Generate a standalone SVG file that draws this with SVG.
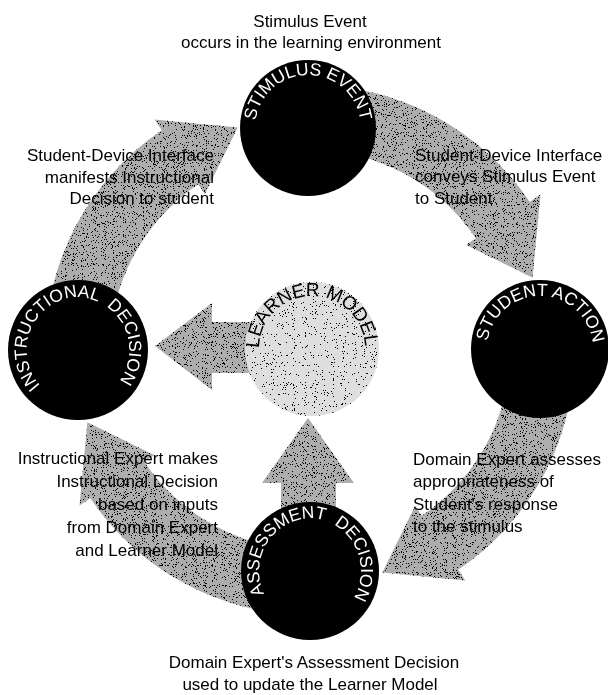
<svg xmlns="http://www.w3.org/2000/svg" width="608" height="695" viewBox="0 0 608 695">
<style>
.ann{font-family:"Liberation Sans",Arial,Helvetica,sans-serif;font-size:17px;fill:#000}
.mid{text-anchor:middle}
.end{text-anchor:end}
.ct{font-family:"Liberation Sans",Arial,Helvetica,sans-serif;font-size:17.5px;fill:#fff;text-anchor:middle}
.wide{word-spacing:5px}
.lmt{font-family:"Liberation Sans",Arial,Helvetica,sans-serif;font-size:19px;fill:#000;text-anchor:middle}
.node{fill:#000}
.arrow{fill:#adadad}
.lmc{fill:#dedede}
</style>
<defs>
<filter id="stip" x="-5%" y="-5%" width="110%" height="110%" color-interpolation-filters="sRGB">
<feTurbulence type="fractalNoise" baseFrequency="0.9" numOctaves="2" seed="7" result="n"/>
<feColorMatrix in="n" type="matrix" values="0 0 0 0 0 0 0 0 0 0 0 0 0 0 0 1 0 0 0 0" result="na"/>
<feComponentTransfer in="na" result="th"><feFuncA type="discrete" tableValues="0 0 0 0 0 0 0 0 0 0 0 0 0 1 1 1 1 1 1 1"/></feComponentTransfer>
<feComposite in="th" in2="SourceAlpha" operator="in" result="dots"/>
<feMerge><feMergeNode in="SourceGraphic"/><feMergeNode in="dots"/></feMerge>
</filter>
<filter id="stipL" x="-5%" y="-5%" width="110%" height="110%" color-interpolation-filters="sRGB">
<feTurbulence type="fractalNoise" baseFrequency="0.9" numOctaves="2" seed="3" result="n"/>
<feColorMatrix in="n" type="matrix" values="0 0 0 0 0 0 0 0 0 0 0 0 0 0 0 1 0 0 0 0" result="na"/>
<feComponentTransfer in="na" result="th"><feFuncA type="discrete" tableValues="0 0 0 0 0 0 0 0 0 0 0 0 0 0 1 1 1 1 1 1"/></feComponentTransfer>
<feComposite in="th" in2="SourceAlpha" operator="in" result="dots"/>
<feMerge><feMergeNode in="SourceGraphic"/><feMergeNode in="dots"/></feMerge>
</filter>
<path id="pStim" d="M308,181 A53,53 0 0 1 308,75 A53,53 0 0 1 308,181"/>
<path id="pSA" d="M539.1,402 A53,53 0 0 1 540.9,296 A53,53 0 0 1 539.1,402"/>
<path id="pInst" d="M80.8,402.9 A53,53 0 0 1 75.2,297.1 A53,53 0 0 1 80.8,402.9"/>
<path id="pAss" d="M307.5,623.9 A53,53 0 0 1 312.5,518.1 A53,53 0 0 1 307.5,623.9"/>
<path id="pLM" d="M312.9,402 A53,53 0 0 1 311.1,296 A53,53 0 0 1 312.9,402"/>
</defs>
<rect width="608" height="695" fill="#fff"/>
<g id="connectors" filter="url(#stip)">
<path id="a-inst-stim" class="arrow" d="M45,350 A265,265 0 0 1 161.8,130.3 L154.5,119.5 L237.7,127.4 L204.9,194.1 L198.2,184.2 A200,200 0 0 0 110,350 Z"/>
<path id="a-stim-sa" class="arrow" transform="rotate(90 310 350)" d="M45,350 A265,265 0 0 1 161.8,130.3 L154.5,119.5 L237.7,127.4 L204.9,194.1 L198.2,184.2 A200,200 0 0 0 110,350 Z"/>
<path id="a-sa-ass" class="arrow" transform="rotate(180 310 350)" d="M45,350 A265,265 0 0 1 161.8,130.3 L154.5,119.5 L237.7,127.4 L204.9,194.1 L198.2,184.2 A200,200 0 0 0 110,350 Z"/>
<path id="a-ass-inst" class="arrow" transform="rotate(270 310 350)" d="M45,350 A265,265 0 0 1 161.8,130.3 L154.5,119.5 L237.7,127.4 L204.9,194.1 L198.2,184.2 A200,200 0 0 0 110,350 Z"/>
<path id="a-lm-inst" class="arrow" d="M270,322 L212,322 L212,303 L155,346 L212,390 L212,373 L270,373 Z"/>
<path id="a-ass-lm" class="arrow" d="M281,515 L281,483 L262,483 L308,418 L354,483 L336,483 L336,515 Z"/>
</g>
<g id="learner-model">
<circle class="lmc" cx="312" cy="349" r="67" filter="url(#stipL)"/>
<text class="lmt"><textPath href="#pLM" startOffset="50%">LEARNER MODEL</textPath></text>
</g>
<g id="stimulus-event">
<circle class="node" cx="308" cy="128" r="68"/>
<text class="ct"><textPath href="#pStim" startOffset="50%">STIMULUS EVENT</textPath></text>
</g>
<g id="student-action">
<circle class="node" cx="540" cy="349" r="69"/>
<text class="ct"><textPath href="#pSA" startOffset="50%">STUDENT ACTION</textPath></text>
</g>
<g id="instructional-decision">
<circle class="node" cx="78" cy="350" r="70"/>
<text class="ct wide"><textPath href="#pInst" startOffset="50%">INSTRUCTIONAL DECISION</textPath></text>
</g>
<g id="assessment-decision">
<circle class="node" cx="310" cy="571" r="69"/>
<text class="ct wide"><textPath href="#pAss" startOffset="50%">ASSESSMENT DECISION</textPath></text>
</g>
<g id="labels">
<text class="ann mid" x="310" y="27">Stimulus Event</text>
<text class="ann mid" x="311" y="48">occurs in the learning environment</text>
<text class="ann end" x="214" y="161">Student-Device Interface</text>
<text class="ann end" x="214" y="183">manifests Instructional</text>
<text class="ann end" x="214" y="204">Decision to student</text>
<text class="ann" x="415" y="161">Student-Device Interface</text>
<text class="ann" x="415" y="182">conveys Stimulus Event</text>
<text class="ann" x="415" y="204">to Student</text>
<text class="ann end" x="218" y="464">Instructional Expert makes</text>
<text class="ann end" x="218" y="487">Instructional Decision</text>
<text class="ann end" x="218" y="510">based on inputs</text>
<text class="ann end" x="218" y="533">from Domain Expert</text>
<text class="ann end" x="218" y="556">and Learner Model</text>
<text class="ann" x="413" y="465">Domain Expert assesses</text>
<text class="ann" x="413" y="487">appropriateness of</text>
<text class="ann" x="413" y="510">Student's response</text>
<text class="ann" x="413" y="532">to the stimulus</text>
<text class="ann mid" x="314" y="668">Domain Expert's Assessment Decision</text>
<text class="ann mid" x="310" y="690">used to update the Learner Model</text>
</g>
</svg>
